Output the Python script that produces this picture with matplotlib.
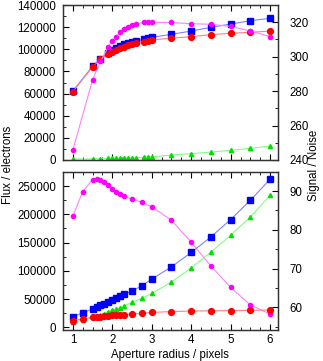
import matplotlib
matplotlib.use("Agg")
import matplotlib.pyplot as plt
from matplotlib.ticker import MultipleLocator

plt.rcParams["font.family"] = ["Liberation Sans", "DejaVu Sans"]
plt.rcParams["font.size"] = 8

# top panel: flux vs aperture radius
x_top = [1, 1.5, 1.7, 1.9, 2.0, 2.1, 2.2, 2.3, 2.4, 2.5, 2.6, 2.8, 2.9, 3.0,
         3.5, 4.0, 4.5, 5.0, 5.5, 6.0]
blue_top = [62300, 84700, 91500, 97000, 99500, 101500, 103000, 104500, 105500,
            106500, 107500, 109000, 109800, 110800, 113500, 116500, 119800,
            122800, 125800, 128000]
red_top = [61800, 84000, 91000, 95500, 97500, 99500, 101000, 102500, 103500,
           104500, 105500, 106500, 107300, 108500, 110000, 111400, 113200,
           114500, 115300, 116500]
mag_top = [9000, 72500, 89000, 102300, 107800, 111400, 115300, 118000, 120400,
           121900, 122800, 124300, 124300, 124300, 124200, 123100, 122600,
           120600, 116600, 111400]
green_top = [800, 1000, 1200, 1400, 1500, 1600, 1700, 1800, 1900, 2000, 2100,
             2500, 2700, 2900, 4500, 5700, 7200, 8700, 10500, 12600]

# bottom panel
x_bot = [1, 1.25, 1.5, 1.6, 1.7, 1.8, 1.9, 2.0, 2.1, 2.2, 2.3, 2.5, 2.75, 3.0,
         3.5, 4.0, 4.5, 5.0, 5.5, 6.0]
mag_bot = [196500, 240200, 261400, 263100, 261400, 257100, 251300, 245500,
           240200, 235400, 231900, 227100, 221300, 213000, 189500, 150600,
           108300, 70600, 39400, 23500]
blue_bot = [18700, 25800, 32300, 35800, 38900, 41700, 45200, 48700, 52300,
            55800, 58800, 64100, 73500, 85300, 107000, 132400, 160000, 190700,
            224800, 261900]
green_bot = [8800, 12900, 17700, 19500, 21500, 24000, 27000, 30000, 32500,
             35000, 38000, 44100, 51200, 60000, 80000, 105200, 133000, 163000,
             195300, 233600]
red_bot = [11700, 15200, 17700, 17900, 18500, 19500, 20500, 21200, 21600,
           22000, 22300, 23500, 24700, 26300, 27800, 28800, 29300, 29400,
           30000, 30600]

series_style = {
    "blue": dict(color="#8080ff", marker="s", ms=4.4, mfc="#0000ff", mec="#0000ff"),
    "red": dict(color="#ff8080", marker="o", ms=4.2, mfc="#ff0000", mec="#ff0000"),
    "mag": dict(color="#ff80ff", marker="o", ms=3.0, mfc="#ff00ff", mec="#ff00ff"),
    "green": dict(color="#80ff80", marker="^", ms=3.0, mfc="#00e000", mec="#00e000"),
}

W, H = 323, 361
fig = plt.figure(figsize=(W / 100, H / 100), dpi=100)


def frac(x0, y0, x1, y1):
    return [x0 / W, 1 - y1 / H, (x1 - x0) / W, (y1 - y0) / H]


def style_axes(ax, ax2):
    for a in (ax, ax2):
        for s in a.spines.values():
            s.set_linewidth(0.9)
            s.set_color("#333333")
    ax.tick_params(which="both", direction="in", top=True, right=False,
                   labelsize=8.3, pad=5)
    ax.tick_params(axis="x", pad=3)
    ax.tick_params(which="major", length=4)
    ax.tick_params(which="minor", length=2)
    ax2.tick_params(which="both", direction="in", labelsize=8.3, pad=8)
    ax2.tick_params(which="major", length=4)
    ax2.tick_params(which="minor", length=2)
    ax.xaxis.set_major_locator(MultipleLocator(1))
    ax.xaxis.set_minor_locator(MultipleLocator(0.25))


ax_t = fig.add_axes(frac(63, 5, 278, 160))
ax_t.plot(x_top, blue_top, lw=0.8, **series_style["blue"])
ax_t.plot(x_top, red_top, lw=0.8, **series_style["red"])
ax_t.plot(x_top, mag_top, lw=0.8, **series_style["mag"])
ax_t.plot(x_top, green_top, lw=0.8, **series_style["green"])
ax_t.set_xlim(0.75, 6.2)
ax_t.set_ylim(0, 140000)
ax_t.yaxis.set_major_locator(MultipleLocator(20000))
ax_t.yaxis.set_minor_locator(MultipleLocator(10000))
ax_t.tick_params(labelbottom=False)
ax_t2 = ax_t.twinx()
ax_t2.set_ylim(240, 330)
ax_t2.yaxis.set_major_locator(MultipleLocator(20))
ax_t2.yaxis.set_minor_locator(MultipleLocator(10))
style_axes(ax_t, ax_t2)

ax_b = fig.add_axes(frac(63, 172, 278, 330))
ax_b.plot(x_bot, mag_bot, lw=0.8, **series_style["mag"])
ax_b.plot(x_bot, blue_bot, lw=0.8, **series_style["blue"])
ax_b.plot(x_bot, green_bot, lw=0.8, **series_style["green"])
ax_b.plot(x_bot, red_bot, lw=0.8, **series_style["red"])
ax_b.set_xlim(0.75, 6.2)
ax_b.set_ylim(-4800, 274800)
ax_b.yaxis.set_major_locator(MultipleLocator(50000))
ax_b.yaxis.set_minor_locator(MultipleLocator(25000))
ax_b2 = ax_b.twinx()
ax_b2.set_ylim(54.2, 94.9)
ax_b2.yaxis.set_major_locator(MultipleLocator(10))
ax_b2.yaxis.set_minor_locator(MultipleLocator(5))
style_axes(ax_b, ax_b2)

fig.text(8 / W, 1 - 165 / H, "Flux / electrons", rotation=90, ha="center",
         va="center", fontsize=8.3)
fig.text(314 / W, 1 - 165 / H, "Signal / Noise", rotation=90, ha="center",
         va="center", fontsize=8.3)
fig.text(170 / W, 1 - 355 / H, "Aperture radius / pixels", ha="center",
         va="center", fontsize=8.3)

fig.savefig("out.png", dpi=100)
